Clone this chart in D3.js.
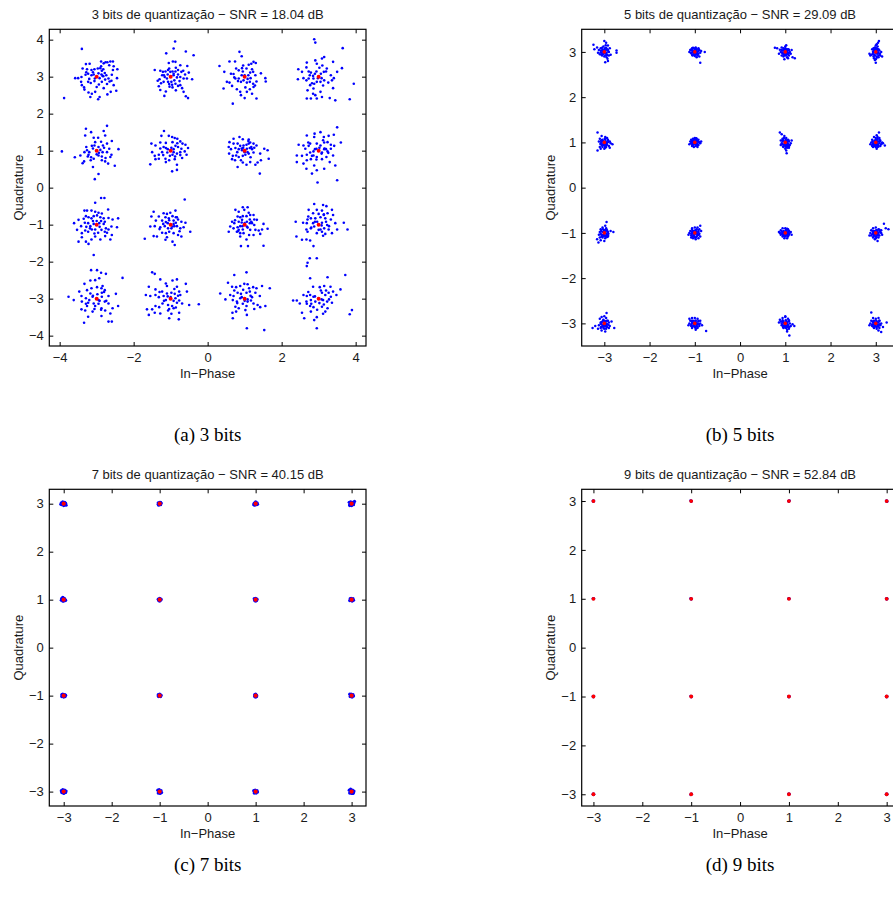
<!DOCTYPE html>
<html>
<head>
<meta charset="utf-8">
<script src="https://cdn.jsdelivr.net/npm/d3@7"></script>
<style>
  body { margin: 0; background: #ffffff; }
  svg text { font-family: "Liberation Sans", Arial, Helvetica, sans-serif; fill: #1a1a1a; }
  svg text.caption { font-family: "Liberation Serif", "Times New Roman", serif; fill: #000; }
</style>
</head>
<body>
<svg id="fig" width="893" height="907"></svg>
<script>
// 16-QAM constellation after quantisation with 3, 5, 7 and 9 bits.
const bitsList = [3, 5, 7, 9];
const snrList = [18.04, 29.09, 40.15, 52.84];
const captionLetters = ["a", "b", "c", "d"];
const levels = [-3, -1, 1, 3];
const axisLimits = [4.28, 3.5, 3.3, 3.24];
const xTicksWide = [-4, -2, 0, 2, 4];
const yTicksWide = [-4, -3, -2, -1, 0, 1, 2, 3, 4];
const ticksNarrow = [-3, -2, -1, 0, 1, 2, 3];

// Received-symbol deviations from each ideal point, in hundredths of a unit,
// flat [dI, dQ, dI, dQ, ...] per cluster. Cluster order: Q = 3, 1, -1, -3 (rows),
// I = -3, -1, 1, 3 (columns).
const noise3 = [
  [-40,75,-88,-58,-29,34,-19,35,12,41,24,39,19,36,29,39,37,41,44,41,-38,22,-26,20,-14,18,-6,20,3,22,10,23,14,16,18,20,34,31,46,28,44,18,56,20,-58,-4,-50,-4,-41,-1,-30,5,-23,8,-14,4,-8,6,5,9,13,6,18,1,26,4,32,-5,41,5,55,-4,-42,-14,-40,-23,-34,-29,-23,-14,-16,-17,-5,-5,6,-21,14,-14,23,-8,35,-13,40,-11,46,-23,-33,-35,-22,-43,-13,-46,-17,-55,-4,-41,4,-61,8,-55,19,-31,29,-48,38,-41,53,-38,-10,12,8,-4,-20,-6,22,10,0,-28,-28,12,12,28,28,-20,-6,-12,16,2],
  [12,95,8,76,-12,63,41,68,62,58,6,41,13,40,-5,37,26,31,45,29,-43,18,-28,16,-21,13,-14,14,-7,18,-1,13,5,14,13,14,20,18,29,13,34,16,39,6,49,11,-23,4,-16,-1,-10,-5,8,4,17,-2,26,-1,35,-5,44,-5,58,-7,-35,-11,-30,-7,-19,-14,-7,-14,-4,-20,4,-22,13,-19,20,-25,26,-23,-32,-26,-13,-40,-17,-52,14,-37,35,-41,41,-53,47,-58,-3,-27,5,-29,-28,-36,31,-31,-8,6,10,-10,-18,4,20,6,2,-14,-26,-18,14,24,24,-12,-4,22,8,8],
  [-14,67,-8,55,-41,41,-26,41,-68,29,-55,13,-37,8,-30,7,-23,22,-16,17,-7,23,-5,14,5,22,11,32,18,35,24,40,30,37,15,11,23,13,29,4,44,9,-48,-14,-41,-16,-34,-25,-25,-5,-16,-5,-10,-14,-3,-10,6,-16,14,-14,23,-19,32,-13,56,-4,57,-13,-57,-32,-21,-34,-12,-41,-10,-50,0,-58,6,-41,14,-34,20,-46,32,-59,-32,-73,24,-28,2,-29,-8,4,8,-6,-18,-12,20,20,0,4,-28,-2,10,4,28,-24,-4,30,16,-4],
  [-12,101,-9,92,65,77,9,49,15,53,-9,44,-5,35,-32,38,39,40,63,23,50,13,-55,20,-45,13,-33,25,-27,14,-21,11,-15,2,-6,14,6,8,14,13,20,14,33,4,41,-4,-56,-7,-41,-4,-33,-10,-27,-5,-14,-5,-5,-14,5,-14,15,-10,36,-10,39,-31,-30,-37,-23,-23,-14,-32,-15,-46,-9,-50,-5,-59,-21,-59,5,-41,9,-55,30,-58,45,-64,84,-61,95,-19,-32,-59,-12,-19,-10,8,8,-4,-18,-18,22,22,2,24,-24,4,12,-24,26,-16,-2,-4,10,30],
  [28,67,19,53,-29,59,-15,50,-8,35,4,35,23,41,-31,41,41,26,59,4,-94,-2,-59,-18,-44,-13,-34,-29,-33,-4,-26,1,-22,-11,-13,13,-4,23,5,10,10,2,17,14,28,19,34,5,40,-11,-15,-18,-8,-22,5,-13,14,-26,23,-29,31,-35,49,-41,-10,-44,5,-63,-5,-77,-24,-16,-38,-34,-16,-26,16,-4,28,-4,37,-17,-10,6,6,-6,-20,-4,20,8,0,-10,-28,10,12,24,24,-20,-6,14,14,-16],
  [-18,53,-25,40,-13,21,-5,40,4,37,11,34,18,32,26,25,32,19,40,16,47,7,-52,19,-41,14,-28,22,-19,10,-13,7,5,23,13,13,20,10,29,5,38,-2,43,-11,-50,-4,-43,-14,-32,-11,-23,-4,-9,-5,5,-11,17,-8,26,-4,-41,-23,-32,-22,-14,-22,-13,-31,-4,-26,11,-23,17,-38,-55,-37,4,-56,17,-52,31,-20,-8,4,8,-4,-20,-12,18,20,2,8,-28,6,12,-16,26,-12,-2,-14,8,4],
  [-14,37,-30,32,-5,31,11,30,-41,23,-30,19,-19,19,-12,13,-3,14,5,16,11,19,15,22,24,19,32,14,-43,10,-37,4,-25,7,-16,4,-7,1,6,5,14,7,20,4,53,5,62,1,-42,-8,-32,-14,-23,-13,-16,-17,-5,-14,2,-11,11,-8,24,-5,42,-8,65,-22,-34,-23,-10,-26,-5,-32,5,-38,15,-31,29,-38,35,-32,-19,-44,41,-62,44,-26,-8,6,8,-4,-20,-4,18,10,0,-4,-26,-26,10,26,26,8,-4,8,16,-18],
  [50,63,5,50,-11,46,-32,41,-12,37,14,37,27,40,41,43,-23,19,-54,16,-41,14,-36,5,-27,13,-5,19,5,14,15,22,24,23,33,16,42,13,60,22,-59,-13,-45,-14,-32,-11,-23,-5,-14,-2,-6,5,9,-5,15,4,24,-2,33,5,39,-13,-59,-31,-41,-35,-32,-26,-21,-23,-14,-13,-5,-17,9,-23,21,-17,30,-31,45,-40,-33,-49,-18,-62,-5,-53,-3,-86,50,-80,15,-49,-12,-40,-10,4,8,-8,-18,-14,20,4,2,8,-28,22,12,28,26,-6,-6,-24,16,6],
  [-4,59,12,72,21,72,-33,38,-26,38,-14,38,-4,35,5,32,31,41,-61,4,-49,13,-35,16,-29,23,-22,20,-14,17,-8,23,1,25,10,20,19,17,32,18,43,14,58,17,-53,-14,-42,-4,-32,5,-23,4,-17,-4,-8,2,7,4,19,2,25,-10,40,-5,55,-7,-40,-23,-31,-16,-23,-19,-13,-13,-4,-13,4,-22,13,-14,22,-19,32,-13,41,-28,-49,-46,-29,-46,-22,-52,-14,-40,-4,-32,10,-40,23,-31,37,-40,-8,-82,-40,-34,-10,10,8,-6,-18,-10,22,8,0,10,-28,-6,12,10,28,-22,-6,-24,14,30],
  [38,68,-46,35,-19,31,-10,29,-1,32,13,38,-32,22,-52,22,-14,20,-5,17,5,23,17,20,-40,11,-23,11,-13,7,8,11,14,5,29,8,40,5,-55,-5,-43,-4,-28,-7,-16,-4,-7,-10,5,-5,17,-4,26,-10,35,-7,53,-19,-46,-31,-37,-32,-23,-22,-13,-23,-4,-19,8,-23,20,-28,29,-32,-70,-38,-14,-41,5,-46,11,-55,-10,-34,-8,4,10,-4,-20,2,20,14,2,-10,-30,-12,14,20,24,-18,-4,12,8,2],
  [-5,47,8,47,-25,40,-16,35,-1,40,11,32,15,26,24,26,-19,22,-12,20,-5,23,5,23,14,14,33,13,-34,8,-28,4,-16,8,-7,13,6,8,20,4,26,-1,51,2,62,-11,-39,-5,-30,-10,-19,-7,-12,-4,-5,-13,6,-5,15,-14,29,-14,38,-16,47,-13,-43,-19,-21,-19,-12,-23,-3,-23,24,-28,42,-25,-12,-32,5,-40,-10,-58,9,-58,51,-57,-16,-14,-8,6,8,-8,-18,-18,18,8,0,4,-26,12,12,-28,26,14,-6,-4,14,4],
  [-12,56,12,53,21,50,-27,40,-5,40,9,38,36,40,-15,31,0,29,14,26,24,31,39,26,-30,14,-21,17,-9,17,5,20,18,17,33,14,-62,8,-42,5,-32,4,-15,4,9,5,23,-1,45,4,68,5,-33,-13,-21,-10,-12,-5,5,-13,15,-10,27,-13,36,-23,50,-13,78,-13,-60,-32,-45,-41,-33,-40,-23,-43,-14,-58,-5,-23,9,-19,18,-25,-30,-19,-10,8,8,-2,-20,-8,20,8,0,-14,-28,22,14,28,28,-4,-4,8,12,-30],
  [-15,77,1,77,12,70,25,67,70,56,-33,40,-17,49,-4,50,7,55,16,34,-26,23,-14,28,1,31,13,28,22,23,-47,19,-76,5,-62,-4,-41,7,-29,1,-17,14,-11,5,5,-4,14,5,32,7,52,13,-29,-14,-23,-11,-8,-13,5,-14,22,-8,32,-13,58,-20,-41,-29,-31,-32,-11,-35,13,-26,23,-32,37,-40,43,-26,-34,-65,-23,-49,13,-47,32,-62,41,-62,-4,-20,-40,-8,-10,8,8,-6,-20,-4,20,18,2,12,-26,-20,12,-30,26,-6,-6,-28,14,16],
  [-50,71,-43,67,-28,52,-13,41,5,49,17,52,-10,34,17,32,41,40,-59,32,-41,25,-23,19,-10,14,2,16,11,13,23,19,44,19,-67,10,-55,7,-41,10,-32,4,-19,7,-13,-4,13,1,23,-5,31,-13,50,-17,76,-15,-64,-29,-50,-29,-41,-20,-31,-23,-22,-13,-7,-17,4,-20,17,-11,-59,-44,-43,-38,-28,-40,-7,-32,2,-41,23,-38,-4,-53,22,-56,8,-26,-8,6,8,-6,-18,-6,20,8,0,4,-30,18,10,26,26,10,-4,-28,14,-24],
  [5,71,-28,64,-45,43,-34,32,-23,31,-12,34,-1,40,8,39,23,31,32,28,47,34,68,28,-66,14,-52,-2,-39,10,-30,7,-19,16,-10,13,5,16,14,19,29,16,41,7,-32,-4,-21,-8,-12,1,8,-8,17,-5,24,-13,35,-17,56,-20,-25,-22,-16,-26,-5,-14,2,-31,6,-44,-23,-35,-33,-38,-32,-53,42,-23,6,-80,53,-85,5,-20,-8,4,8,-2,-20,-12,20,4,0,-6,-28,22,12,28,26,-28,-4,24,16,8],
  [-30,97,-24,109,-5,109,-32,88,-23,55,24,58,72,64,-15,32,3,31,15,34,32,32,59,25,-41,10,-32,7,-23,10,-14,5,9,16,18,10,27,16,39,19,48,10,-69,-5,-59,-5,-51,-13,-33,-8,-21,-4,-9,-8,12,-4,23,-8,36,-11,33,5,-45,-38,-32,-14,-23,-20,-14,-23,9,-22,18,-35,24,-26,-39,-53,-21,-35,-12,-58,-5,-50,12,-41,-5,-80,84,-42,90,-31,-10,6,8,-2,-20,-14,20,22,2,-12,-28,18,14,-16,28,-2,-4,-30,6,22]
];

const noise5 = [
  [-24,16,-22,6,-16,10,0,24,4,20,2,-23,8,-20,27,-2,27,3,-12,4,-8,8,-6,-2,-4,5,-2,12,0,2,2,8,4,-4,6,6,8,14,10,0,12,8,-10,-5,-5,-8,0,-10,5,-12,10,-8,14,-6,-14,-2,3,15,7,-15,-7,3,-3,-5,1,7,5,-2,8,4,-5,9,3,3,-1,-3,6,-7,-8,-1,2,-8,9,1,-3,1,4,9,-6,-6,0,5],
  [-10,4,-8,-2,-6,6,-4,0,-2,-6,0,4,2,-2,4,6,6,0,8,-4,10,4,12,-2,-12,0,-2,8,2,10,6,-8,0,-9,-6,-6,8,8,14,2,22,0,12,-24,4,-12,-4,9,10,-10,-9,5,3,1,-7,3,-3,-5,1,7,5,-3,8,2,-5,-8,3,3,-1,-2,6,-6,-8,-3,2,-5,9,5,-3,2,4,1,-6,8,0,-6],
  [-23,9,-18,8,-12,5,-8,10,-4,8,0,12,4,6,8,4,-10,0,-6,-2,-2,2,2,-4,6,-2,10,0,-8,-8,-4,-10,0,-8,4,-12,8,-8,12,-4,21,-14,16,-12,-2,-16,6,-14,2,15,14,4,-14,-4,-6,3,-3,-6,1,6,5,-2,7,6,-5,-4,3,2,-1,-3,6,-5,-8,4,2,-7,9,-2,-3,4,4,2,-7,-2,0,8],
  [7,24,5,20,2,17,0,14,4,12,-2,10,2,8,6,6,-4,4,0,2,4,-2,8,-4,-6,-2,-10,-6,-14,-4,-2,-8,2,-10,6,-12,10,-8,0,-16,0,-24,-4,-14,12,0,-8,6,14,-10,-12,-8,-6,1,-3,-6,1,5,5,-1,8,3,-5,8,3,-4,-1,-2,6,-8,-7,-5,2,-13,9,-4,-2,-18,4,4,-5,-10,0,7],
  [-15,22,-6,14,2,12,-10,8,-4,6,2,6,8,4,-12,2,-6,0,0,-2,6,0,12,2,-8,-4,-2,-6,4,-6,10,-8,-10,-10,-4,-10,2,-12,-15,-18,14,-2,18,-4,-8,-14,6,10,0,-14,12,-12,-7,3,-3,-4,1,8,5,-3,8,6,-5,-7,3,2,-1,-4,6,-5,-8,-2,2,-9,9,1,-3,3,4,-10,-6,5,0,-6],
  [-8,6,-4,8,0,10,4,8,8,6,-10,2,-6,2,-2,4,2,2,6,4,10,0,-8,-2,-4,-4,0,-2,4,-4,8,-6,12,-2,-6,-8,-2,-10,2,-8,6,-10,-12,-4,14,2,0,6,-6,4,-3,-5,1,6,5,-2,7,2,-5,-6,3,3,-1,-3,5,-7,-7,0,2,-5,9,1,-3,1,3,9,-6,-3,0,4],
  [-12,22,-8,18,-2,14,-6,8,2,10,6,6,-10,4,-4,4,0,2,4,0,8,2,12,-2,-8,-2,-2,-4,2,-6,6,-8,10,-6,-4,-10,0,-14,2,-18,3,-24,4,-12,-10,-6,14,4,8,-12,-6,2,-3,-5,1,6,5,-3,7,5,-5,-9,3,3,-1,-1,6,-4,-7,-4,2,-10,8,-9,-3,10,4,2,-6,6,0,-8],
  [7,22,2,16,-4,12,0,10,4,8,8,10,-8,6,-2,4,2,4,6,2,10,4,-10,0,-6,-2,0,-2,4,-4,8,-2,12,-4,20,-7,16,-2,-8,-8,-4,-8,0,-10,4,-10,10,-8,-12,-4,2,-14,14,0,-7,2,-3,-5,1,6,5,-6,8,6,-5,-4,3,1,-1,-6,6,-9,-8,-6,2,-7,9,2,-3,3,4,12,-6,-10,0,-4],
  [5,24,2,16,-4,12,4,10,-8,8,0,6,6,6,-10,2,-4,2,2,0,8,2,14,4,20,2,-12,-4,-6,-4,0,-6,6,-4,-10,-10,-4,-10,2,-12,-13,-21,-16,-14,8,-8,-8,-16,0,-18,4,8,-7,4,-3,-7,1,5,5,-2,8,-5,-5,-5,3,3,-1,-3,6,-9,-8,-2,2,-8,9,-2,-3,8,4,-6,-6,-8,0,2],
  [12,16,6,12,0,12,-6,10,4,8,10,8,-10,4,-4,4,2,4,8,2,-12,0,-6,-2,0,-2,6,-4,10,-2,-8,-6,-2,-8,4,-8,12,-8,-4,-12,2,-14,-8,-10,8,-12,14,4,-14,-4,-6,2,-3,-6,1,6,5,-2,8,5,-5,-8,3,2,-1,-4,6,-6,-8,-2,2,-10,9,-4,-3,1,4,2,-6,7,0,-10],
  [-6,10,0,10,6,8,-10,6,-4,4,2,6,8,4,-12,0,-6,0,0,2,6,0,12,2,-10,-4,-4,-4,2,-4,8,-4,-6,-8,0,-8,6,-8,-2,-12,4,-12,14,-4,-14,2,-6,2,-3,-6,1,6,5,-2,7,5,-5,-7,3,3,-1,-2,5,-6,-8,3,2,-6,9,-1,-3,1,4,9,-7,-2,0,-5],
  [18,20,28,8,22,10,0,12,-6,10,6,8,-10,6,-4,4,2,6,8,4,12,6,-12,0,-6,0,0,2,6,0,12,0,-10,-6,-4,-4,2,-4,8,-6,-6,-10,0,-8,6,-10,-2,-14,-14,-6,14,-4,4,-18,-6,3,-3,-6,1,6,5,-2,8,7,-5,-8,3,2,-1,-3,6,-5,-8,-3,2,-9,10,2,-3,3,4,-4,-7,4,0,-12],
  [5,23,0,16,-6,14,4,12,-10,10,-2,8,6,6,-8,2,-2,2,4,0,10,2,16,4,-12,-4,-6,-2,0,-4,6,-2,12,-6,-26,-10,-20,-6,22,-10,-8,-10,-2,-10,4,-12,10,-10,-6,-16,2,-18,-14,-12,-6,3,-3,-6,1,5,5,-3,8,6,-5,-7,3,4,-1,-3,6,-8,-8,-1,2,-7,9,-3,-3,6,4,-5,-7,-8,0,-12],
  [-12,10,-6,12,0,12,6,10,-10,6,-4,6,2,6,8,4,12,6,-12,0,-6,0,0,2,6,0,12,0,-8,-6,-2,-4,4,-6,10,-6,-6,-10,0,-8,6,-10,25,-17,16,-4,-14,-4,2,-14,-6,3,-3,-5,1,6,5,-2,8,6,-5,-7,3,2,-1,-3,6,-8,-8,-3,2,-11,9,-2,-3,2,4,-3,-7,6,0,-7],
  [-12,8,-6,12,0,14,6,10,-10,4,-4,4,2,6,8,4,-8,0,-2,0,4,2,10,0,16,-2,-6,-4,0,-6,6,-4,12,-6,-4,-10,2,-10,8,-12,9,-27,4,-18,20,-6,-14,2,0,16,-6,3,-3,-6,1,7,5,-2,8,7,-5,-8,3,3,-1,-3,6,-8,-8,-4,2,-6,9,-8,-3,1,4,-14,-6,7,0,-9],
  [-10,24,-6,12,0,10,6,12,-10,6,-4,6,2,4,8,6,-12,0,-6,-2,0,0,6,2,12,0,24,2,-8,-6,-2,-6,4,-6,10,-4,-4,-10,2,-12,8,-10,12,-19,6,-16,16,-8,-14,-4,-6,3,-3,-5,1,6,5,-3,8,6,-5,-8,3,2,-1,-3,6,-7,-8,-3,2,-8,9,-2,-3,2,4,-3,-7,4,0,-7]
];

const noise7 = [
  [-5,2,-4,-2,-2,4,0,-4,2,3,3,-2,4,1,-3,0,1,-1,-1,2,-6,-1,5,-3],
  [-3,2,-2,-3,0,3,2,-2,3,1,-1,0,1,-1,-3,-1,2,3],
  [-3,1,-2,-3,0,4,2,-2,3,2,4,-1,-1,0,1,-1,-4,-2],
  [-5,3,-4,-2,-2,4,0,-4,2,3,4,-2,5,2,-3,0,1,-2,-1,3,6,5,-4,-4],
  [-4,3,-5,-1,-2,5,0,-3,2,2,3,-2,4,-1,-2,-3,1,1,-1,4],
  [-3,1,-2,-2,0,3,2,-1,3,1,-1,-1,1,0,0,-3],
  [-3,2,-2,-2,0,3,2,-2,3,1,-1,0,1,-1,0,-3],
  [-3,2,-4,-2,-1,3,1,-3,3,2,4,-1,0,0,2,-2,-2,-1],
  [-4,2,-4,-2,-2,3,0,-3,2,2,3,-2,4,1,-1,0,1,-1],
  [-3,2,-2,-2,0,3,2,-2,3,1,-1,-1,1,1,-3,-1],
  [-2,2,-2,-2,0,3,2,-2,2,1,-1,0,1,-1,0,-3],
  [-4,3,-3,-2,-1,3,1,-3,3,2,4,-1,0,0,-2,-1,2,1],
  [-5,2,-4,-2,-2,4,0,-4,2,3,4,-2,5,1,-3,-1,1,-2,-1,2],
  [-4,3,-3,-3,-1,4,1,-4,3,2,4,-2,0,1,-2,-1,2,-1],
  [-4,2,-3,-3,-1,3,1,-3,3,2,4,-1,0,0,-2,-1],
  [-5,3,-4,-3,-2,5,0,-4,2,3,4,-2,5,1,-3,-1,1,-1,-1,2,3,-4]
];

const noise9 = [
  [-1,0,0,1,1,0,0,-1],
  [-1,1,1,0,0,-1],
  [-1,0,1,1,0,-1],
  [-1,0,0,1,1,-1,0,-1],
  [-1,0,0,1,1,0],
  [-1,1,1,0,0,-1],
  [-1,0,1,0,0,1],
  [-1,0,0,1,1,0,0,-1],
  [-1,0,1,1,0,-1],
  [-1,1,0,-1,1,0],
  [-1,0,1,0,0,-1],
  [-1,0,0,1,1,0,0,-1],
  [-1,0,0,1,1,0,0,-1],
  [-1,-1,1,0,0,1],
  [-1,0,1,0,0,1],
  [-1,0,0,1,1,0,0,-1]
];

const panelNoise = [noise3, noise5, noise7, noise9];

// ---- drawing ----
const svg = d3.select("#fig");
const size = 316.7;
const frames = [
  { x: 49.3, y: 29.3, cap: 441 },
  { x: 581.7, y: 29.3, cap: 441 },
  { x: 49.3, y: 489.3, cap: 871 },
  { x: 581.7, y: 489.3, cap: 871 }
];
const dotRadius = [1.3, 1.25, 1.6, 1.4];
const idealRadius = [2.0, 1.8, 2.1, 1.9];
const fmt = d => (d < 0 ? "\u2212" + Math.abs(d) : String(d));

bitsList.forEach((bits, i) => {
  const f = frames[i];
  const L = axisLimits[i];
  const xs = d3.scaleLinear().domain([-L, L]).range([0, size]);
  const ys = d3.scaleLinear().domain([-L, L]).range([size, 0]);
  const g = svg.append("g").attr("transform", `translate(${f.x},${f.y})`);

  const clipId = "clip" + i;
  g.append("clipPath").attr("id", clipId)
    .append("rect").attr("width", size).attr("height", size);

  // received symbols
  const pts = [];
  panelNoise[i].forEach((offs, k) => {
    const I = levels[k % 4];
    const Q = levels[3 - Math.floor(k / 4)];
    for (let j = 0; j < offs.length; j += 2) {
      pts.push({ x: I + offs[j] / 100, y: Q + offs[j + 1] / 100 });
    }
  });
  const ideal = [];
  levels.forEach(q => levels.forEach(p => ideal.push({ x: p, y: q })));

  const plot = g.append("g").attr("clip-path", `url(#${clipId})`);
  plot.selectAll("circle.rx").data(pts).join("circle")
    .attr("class", "rx")
    .attr("cx", d => xs(d.x)).attr("cy", d => ys(d.y))
    .attr("r", dotRadius[i]).attr("fill", "#0000ff");
  plot.selectAll("circle.ideal").data(ideal).join("circle")
    .attr("class", "ideal")
    .attr("cx", d => xs(d.x)).attr("cy", d => ys(d.y))
    .attr("r", idealRadius[i]).attr("fill", "#ff0000");

  const xt = i === 0 ? xTicksWide : ticksNarrow;
  const yt = i === 0 ? yTicksWide : ticksNarrow;

  const styleAxis = sel => {
    sel.select(".domain").remove();
    sel.selectAll(".tick line").attr("stroke", "#000").attr("stroke-width", 1);
    sel.selectAll(".tick text").attr("font-size", 13).attr("fill", "#1a1a1a")
      .attr("font-family", '"Liberation Sans", Arial, sans-serif');
  };

  g.append("g").attr("transform", `translate(0,${size})`)
    .call(d3.axisBottom(xs).tickValues(xt).tickSize(-4).tickPadding(6.5).tickFormat(fmt))
    .call(styleAxis);
  g.append("g")
    .call(d3.axisTop(xs).tickValues(xt).tickSize(-4).tickFormat(""))
    .call(styleAxis);
  g.append("g")
    .call(d3.axisLeft(ys).tickValues(yt).tickSize(-4).tickPadding(5.5).tickFormat(fmt))
    .call(styleAxis);
  g.append("g").attr("transform", `translate(${size},0)`)
    .call(d3.axisRight(ys).tickValues(yt).tickSize(-4).tickFormat(""))
    .call(styleAxis);

  g.append("rect").attr("width", size).attr("height", size)
    .attr("fill", "none").attr("stroke", "#000").attr("stroke-width", 1.2);

  g.append("text").attr("x", size / 2).attr("y", -10)
    .attr("text-anchor", "middle").attr("font-size", 13)
    .text(`${bits} bits de quantização \u2212 SNR = ${snrList[i].toFixed(2)} dB`);
  g.append("text").attr("x", size / 2).attr("y", size + 32.3)
    .attr("text-anchor", "middle").attr("font-size", 13)
    .text("In\u2212Phase");
  g.append("text")
    .attr("transform", `translate(-26.3,${size / 2}) rotate(-90)`)
    .attr("text-anchor", "middle").attr("font-size", 13)
    .text("Quadrature");

  svg.append("text").attr("class", "caption")
    .attr("x", f.x + size / 2).attr("y", f.cap)
    .attr("text-anchor", "middle").attr("font-size", 19)
    .text(`(${captionLetters[i]}) ${bits} bits`);
});
</script>
</body>
</html>
